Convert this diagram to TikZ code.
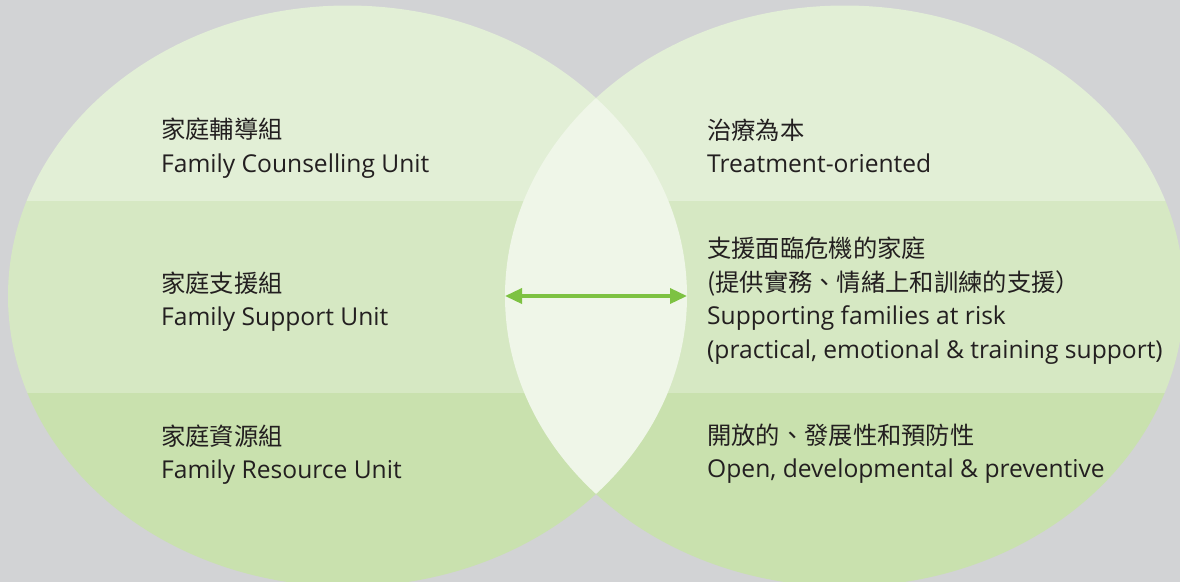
\documentclass[tikz,border=0pt]{standalone}
\usepackage{fontspec}
\setmainfont{Open Sans}
\newfontfamily\cjk{Noto Sans CJK TC}
\usetikzlibrary{arrows.meta}
\definecolor{bg}{RGB}{210,211,213}
\definecolor{bandA}{RGB}{226,239,214}
\definecolor{bandB}{RGB}{214,232,195}
\definecolor{bandC}{RGB}{201,225,174}
\definecolor{lens}{RGB}{239,246,232}
\definecolor{arrowgreen}{RGB}{125,194,66}
\definecolor{txt}{RGB}{35,31,32}
\tikzset{
  en/.style={anchor=base west, inner sep=0pt, text=txt, font=\fontsize{24.6}{30}\selectfont},
  zh/.style={anchor=base west, inner sep=0pt, text=txt, font=\cjk\fontsize{24.3}{30}\selectfont},
  link/.style={draw=arrowgreen, line width=3.5pt, {Triangle[length=17pt,width=15pt]}-{Triangle[length=17pt,width=15pt]}, shorten <=0pt, shorten >=0pt}
}
\begin{document}
\begin{tikzpicture}[x=1pt,y=-1pt]
\fill[bg] (0,0) rectangle (1180,582);
\useasboundingbox (0,0) rectangle (1180,582);
% bands clipped to union of both ellipses
\begin{scope}
  \clip (347.5,296) ellipse [x radius=339.5pt, y radius=290.5pt]
        (844.5,296) ellipse [x radius=339.5pt, y radius=290.5pt];
  \fill[bandA] (0,0) rectangle (1180,201);
  \fill[bandB] (0,201) rectangle (1180,393);
  \fill[bandC] (0,393) rectangle (1180,582);
\end{scope}
% lens (intersection)
\begin{scope}
  \clip (347.5,296) ellipse [x radius=339.5pt, y radius=290.5pt];
  \fill[lens] (844.5,296) ellipse [x radius=339.5pt, y radius=290.5pt];
\end{scope}
% left column
\node[zh] (l1z) at (161,138) {家庭輔導組};
\node[en] (l1e) at (161,172) {Family Counselling Unit};
\node[zh] (l2z) at (161,292) {家庭支援組};
\node[en] (l2e) at (161,325) {Family Support Unit};
\node[zh] (l3z) at (161,445) {家庭資源組};
\node[en] (l3e) at (161,478) {Family Resource Unit};
% right column
\node[zh] (r1z) at (707,139) {治療為本};
\node[en] (r1e) at (707,172) {Treatment-oriented};
\node[zh] (r2z) at (707,257) {支援面臨危機的家庭};
\node[zh] (r2y) at (707,291) {(提供實務、情緒上和訓練的支援）};
\node[en] (r2e) at (707,324) {Supporting families at risk};
\node[en] (r2f) at (707,358) {(practical, emotional \& training support)};
\node[zh] (r3z) at (707,444) {開放的、發展性和預防性};
\node[en] (r3e) at (707,477) {Open, developmental \& preventive};
% arrow
\coordinate (lensL) at (505,296);
\coordinate (lensR) at (687,296);
\draw[link] (lensL) -- (lensR);
\end{tikzpicture}
\end{document}
